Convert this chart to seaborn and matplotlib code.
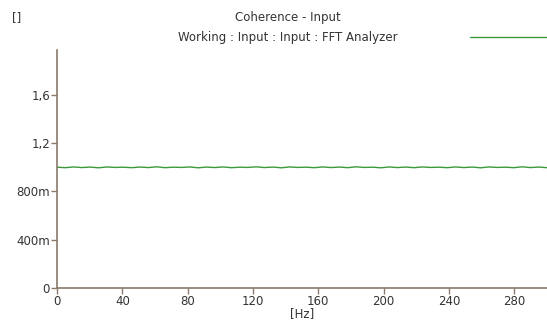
import numpy as np
import pandas as pd
import seaborn as sns
import matplotlib.pyplot as plt
from matplotlib.ticker import FixedLocator

# coherence (about 1.0 with a tiny ripple)
coherence = [1.000, 0.996, 1.002, 0.997, 1.001, 0.995, 1.002, 0.998, 1.000, 0.996,
             1.001, 0.997, 1.003, 0.996, 1.000, 0.998, 1.002, 0.995, 1.001, 0.997,
             1.002, 0.996, 1.000, 0.998, 1.003, 0.997, 1.001, 0.995, 1.002, 0.998,
             1.000, 0.996, 1.002, 0.997, 1.001, 0.996, 1.003, 0.998, 1.000, 0.995,
             1.002, 0.997, 1.001, 0.996, 1.002, 0.998, 1.000, 0.996, 1.002, 0.997,
             1.001, 0.995, 1.002, 0.998, 1.000, 0.996, 1.003, 0.997, 1.001, 0.996]
freq = np.linspace(0, 300, len(coherence))

x_ticks = [0, 40, 80, 120, 160, 200, 240, 280]
y_ticks = [0, 0.4, 0.8, 1.2, 1.6]
y_labels = ['0', '400m', '800m', '1,2', '1,6']

df = pd.DataFrame({'Hz': freq, 'coh': coherence})

sns.set_style('white')
plt.rcParams['font.family'] = ['DejaVu Sans']
axis_col = '#8a7a6a'
text_col = '#333333'

fig = plt.figure(figsize=(5.47, 3.23), dpi=100)
ax = fig.add_axes([57 / 547, 35 / 323, 490 / 547, 238 / 323])

sns.lineplot(data=df, x='Hz', y='coh', ax=ax, color='#3a9a3a', linewidth=1.0)

ax.set_xlim(0, 300)
ax.set_ylim(0, 1.97)
ax.xaxis.set_major_locator(FixedLocator(x_ticks))
ax.set_xticklabels([str(t) for t in x_ticks])
ax.yaxis.set_major_locator(FixedLocator(y_ticks))
ax.set_yticklabels(y_labels)
ax.tick_params(axis='both', direction='out', length=4, width=1, colors=axis_col,
               labelcolor=text_col, labelsize=8.5, pad=1)
ax.tick_params(axis='both', left=True, bottom=True)

for s in ['top', 'right']:
    ax.spines[s].set_visible(False)
for s in ['left', 'bottom']:
    ax.spines[s].set_color(axis_col)
    ax.spines[s].set_linewidth(1.2)

ax.set_xlabel('[Hz]', fontsize=8.5, color=text_col, labelpad=-1)
ax.set_ylabel('')

fig.text(288 / 547, 1 - 18 / 323, 'Coherence - Input', ha='center', va='center',
         fontsize=8.5, color=text_col)
fig.text(288 / 547, 1 - 37 / 323, 'Working : Input : Input : FFT Analyzer',
         ha='center', va='center', fontsize=8.5, color=text_col)
fig.text(12 / 547, 1 - 18 / 323, '[]', ha='left', va='center', fontsize=8.5,
         color=text_col)
fig.add_artist(plt.Line2D([470 / 547, 1.0], [1 - 37 / 323, 1 - 37 / 323],
                          transform=fig.transFigure, color='#3a9a3a', linewidth=1.0))

fig.savefig('out.png', dpi=100)
